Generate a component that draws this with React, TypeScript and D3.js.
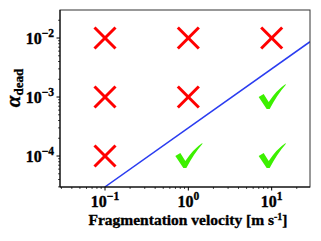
import React from "react";
import * as d3 from "d3";

const okAlpha = [1e-4, 1e-4, 1e-3];
const okVel = [1, 10, 10];
const failAlpha = [1e-4, 1e-3, 1e-3, 1e-2, 1e-2, 1e-2];
const failVel = [0.1, 0.1, 1, 0.1, 1, 10];
const lineCoef = 3e-4; // alpha = coef * v
const xTicks = [-1, 0, 1];
const yTicks = [-4, -3, -2];

const W = 321, H = 241;
const L = 60, R = 310, T = 10, B = 187;
const font = "Liberation Serif";

export default function App() {
  const x = d3.scaleLog().domain([Math.pow(10, -1.54), Math.pow(10, 1.46)]).range([L, R]);
  const y = d3.scaleLog().domain([Math.pow(10, -4.525), Math.pow(10, -1.525)]).range([B, T]);
  const v0 = y.domain()[0] / lineCoef;
  const v1 = x.domain()[1];
  const lineData: [number, number][] = [[v0, lineCoef * v0], [v1, lineCoef * v1]];
  const lineGen = d3.line<[number, number]>().x(d => x(d[0])).y(d => y(d[1]));

  const xMinor: number[] = [];
  for (let e = -2; e <= 1; e++) for (let k = 2; k <= 9; k++) {
    const v = k * Math.pow(10, e);
    if (v >= x.domain()[0] && v <= x.domain()[1]) xMinor.push(v);
  }
  const yMinor: number[] = [];
  for (let e = -5; e <= -2; e++) for (let k = 2; k <= 9; k++) {
    const v = k * Math.pow(10, e);
    if (v >= y.domain()[0] && v <= y.domain()[1]) yMinor.push(v);
  }
  const xs = 10.5;
  const ts = { fontFamily: font, fontWeight: 700, stroke: "#000", strokeWidth: 0.35 } as const;
  return (
    <svg width={W} height={H} style={{ position: "absolute", left: 0, top: 0, background: "#fff" }}>
      <defs>
        <clipPath id="clip"><rect x={L} y={T} width={R - L} height={B - T} /></clipPath>
      </defs>
      <path d={lineGen(lineData) || ""} stroke="#2a3cf0" strokeWidth={1.5} fill="none" clipPath="url(#clip)" />
      {failVel.map((v, i) => {
        const cx = x(v), cy = y(failAlpha[i]);
        return (
          <g key={"f" + i} stroke="#ff0000" strokeWidth={3}>
            <line x1={cx - xs} y1={cy - xs} x2={cx + xs} y2={cy + xs} />
            <line x1={cx - xs} y1={cy + xs} x2={cx + xs} y2={cy - xs} />
          </g>
        );
      })}
      {okVel.map((v, i) => {
        const cx = x(v), cy = y(okAlpha[i]);
        return (
          <path key={"o" + i} transform={`translate(${cx},${cy})`} fill="#3cf000"
            d="M-13,0 L-8,-3 L-3,5 Q5,-7 14,-13 L14,-12 Q6,-3 -2,12 L-5,12 Z" />
        );
      })}
      <rect x={L} y={T} width={R - L} height={B - T} fill="none" stroke="#333" strokeWidth={1} />
      <line x1={L} y1={T} x2={L} y2={B} stroke="#000" />
      <line x1={L} y1={B} x2={R} y2={B} stroke="#000" />
      {xMinor.map((v, i) => <line key={"xm" + i} x1={x(v)} x2={x(v)} y1={B} y2={B + 2} stroke="#000" strokeWidth={0.7} />)}
      {yMinor.map((v, i) => <line key={"ym" + i} x1={L - 2} x2={L} y1={y(v)} y2={y(v)} stroke="#000" strokeWidth={0.7} />)}
      {xTicks.map(e => (
        <g key={"xt" + e}>
          <line x1={x(Math.pow(10, e))} x2={x(Math.pow(10, e))} y1={B} y2={B + 3.5} stroke="#000" />
          <text x={x(Math.pow(10, e))} y={207} textAnchor="middle" {...ts} fontSize={16}>
            10<tspan dy={-7} fontSize={11.5}>{e < 0 ? "\u2212" + (-e) : String(e)}</tspan>
          </text>
        </g>
      ))}
      {yTicks.map(e => (
        <g key={"yt" + e}>
          <line x1={L - 3.5} x2={L} y1={y(Math.pow(10, e))} y2={y(Math.pow(10, e))} stroke="#000" />
          <text x={54} y={y(Math.pow(10, e)) + 6} textAnchor="end" {...ts} fontSize={16}>
            10<tspan dy={-7} fontSize={11.5}>{"\u2212" + (-e)}</tspan>
          </text>
        </g>
      ))}
      <text x={188} y={225} textAnchor="middle" {...ts} fontSize={15.5}>
        Fragmentation velocity [m s<tspan dy={-5} fontSize={10}>-1</tspan><tspan dy={5}>]</tspan>
      </text>
      <text transform="translate(20,88) rotate(-90)" textAnchor="middle" {...ts}>
        <tspan fontStyle="italic" fontSize={21}>α</tspan>
        <tspan dy={3} fontSize={13}>dead</tspan>
      </text>
    </svg>
  );
}
